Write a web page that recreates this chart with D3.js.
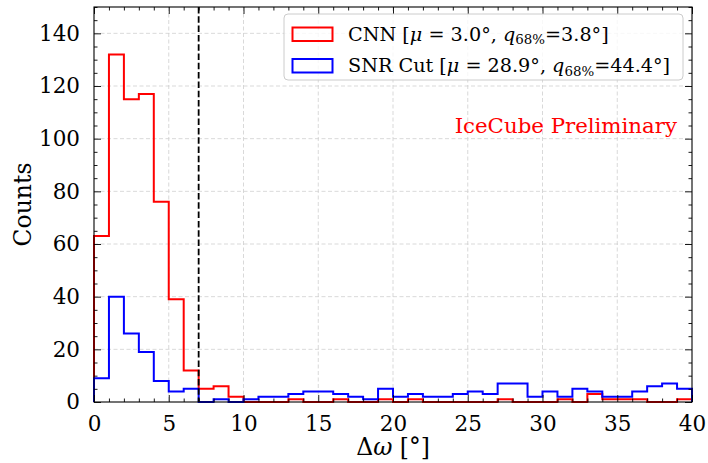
<!DOCTYPE html>
<html>
<head>
<meta charset="utf-8">
<script src="https://cdn.jsdelivr.net/npm/d3@7"></script>
<style>
  html, body { margin: 0; padding: 0; background: #fff; }
  svg { display: block; font-family: "DejaVu Serif", serif; }
</style>
</head>
<body>
<svg id="chart" width="708" height="463"></svg>
<script>
// 1-degree bins from 0 to 40
const binEdges = d3.range(0, 41);
const cnnCounts = [63, 132, 115, 117, 76, 39, 12, 5, 6, 2,
                   0, 0, 0, 1, 0, 0, 1, 0, 0, 1,
                   0, 1, 0, 0, 0, 0, 0, 1, 0, 0,
                   0, 1, 0, 3, 1, 1, 1, 0, 0, 1];
const snrCounts = [9, 40, 26, 19, 8, 4, 5, 0, 1, 0,
                   1, 2, 2, 3, 4, 4, 3, 2, 1, 5,
                   2, 3, 2, 2, 3, 4, 3, 7, 7, 2,
                   4, 2, 5, 4, 2, 2, 4, 6, 7, 5];
const xTicks = [0, 5, 10, 15, 20, 25, 30, 35, 40];
const yTicks = [0, 20, 40, 60, 80, 100, 120, 140];
const cutAngle = 7;

const svg = d3.select('#chart');
const M = { left: 94, right: 692, top: 7, bottom: 402 };

const x = d3.scaleLinear().domain([0, 40]).range([M.left, M.right]);
const y = d3.scaleLinear().domain([0, 150]).range([M.bottom, M.top]);

// grid
const grid = svg.append('g');
grid.selectAll('line.gx').data(xTicks.slice(1, -1)).join('line')
    .attr('x1', d => x(d)).attr('x2', d => x(d))
    .attr('y1', M.top).attr('y2', M.bottom);
grid.selectAll('line.gy').data(yTicks.slice(1)).join('line')
    .attr('x1', M.left).attr('x2', M.right)
    .attr('y1', d => y(d)).attr('y2', d => y(d));
grid.selectAll('line')
    .attr('stroke', '#cfcfcf').attr('stroke-width', 0.8)
    .attr('stroke-dasharray', '4,2.5');

// step histograms
function stepPoints(counts) {
    const pts = [[0, 0]];
    counts.forEach((c, i) => pts.push([binEdges[i], c]));
    pts.push([binEdges[binEdges.length - 1], counts[counts.length - 1]]);
    pts.push([binEdges[binEdges.length - 1], 0]);
    return pts;
}
const step = d3.line().x(d => x(d[0])).y(d => y(d[1])).curve(d3.curveStepAfter);

svg.append('path').attr('d', step(stepPoints(cnnCounts)))
    .attr('fill', 'none').attr('stroke', '#ff0000').attr('stroke-width', 2);
svg.append('path').attr('d', step(stepPoints(snrCounts)))
    .attr('fill', 'none').attr('stroke', '#0000ff').attr('stroke-width', 2);

// cut line
svg.append('line')
    .attr('x1', x(cutAngle)).attr('x2', x(cutAngle))
    .attr('y1', M.top).attr('y2', M.bottom)
    .attr('stroke', '#000').attr('stroke-width', 1.8)
    .attr('stroke-dasharray', '6.5,2.8');

// axes, ticks inward on all four sides
const tickFont = 21.5;
function styleAxis(g) {
    g.select('.domain').remove();
    g.selectAll('.tick line').attr('stroke', '#000').attr('stroke-width', 0.9);
    g.selectAll('.tick text').attr('fill', '#000')
        .attr('font-family', '"DejaVu Serif", serif').attr('font-size', tickFont);
}
const minorX = d3.range(0, 41).filter(v => v % 5 !== 0);
const minorY = d3.range(0, 151, 5).filter(v => v % 20 !== 0);

svg.append('g').attr('transform', `translate(0,${M.bottom})`)
    .call(d3.axisBottom(x).tickValues(xTicks).tickSize(-7).tickPadding(14).tickFormat(d3.format('d')))
    .call(styleAxis);
svg.append('g').attr('transform', `translate(0,${M.bottom})`)
    .call(d3.axisBottom(x).tickValues(minorX).tickSize(-3.5).tickFormat(''))
    .call(styleAxis);
svg.append('g').attr('transform', `translate(0,${M.top})`)
    .call(d3.axisTop(x).tickValues(xTicks).tickSize(-7).tickFormat(''))
    .call(styleAxis);
svg.append('g').attr('transform', `translate(0,${M.top})`)
    .call(d3.axisTop(x).tickValues(minorX).tickSize(-3.5).tickFormat(''))
    .call(styleAxis);
svg.append('g').attr('transform', `translate(${M.left},0)`)
    .call(d3.axisLeft(y).tickValues(yTicks).tickSize(-7).tickPadding(14).tickFormat(d3.format('d')))
    .call(styleAxis);
svg.append('g').attr('transform', `translate(${M.left},0)`)
    .call(d3.axisLeft(y).tickValues(minorY).tickSize(-3.5).tickFormat(''))
    .call(styleAxis);
svg.append('g').attr('transform', `translate(${M.right},0)`)
    .call(d3.axisRight(y).tickValues(yTicks).tickSize(-7).tickFormat(''))
    .call(styleAxis);
svg.append('g').attr('transform', `translate(${M.right},0)`)
    .call(d3.axisRight(y).tickValues(minorY).tickSize(-3.5).tickFormat(''))
    .call(styleAxis);

// frame
svg.append('rect')
    .attr('x', M.left).attr('y', M.top)
    .attr('width', M.right - M.left).attr('height', M.bottom - M.top)
    .attr('fill', 'none').attr('stroke', '#000').attr('stroke-width', 1.1);

// axis labels
const xl = svg.append('text')
    .attr('x', (M.left + M.right) / 2).attr('y', 455)
    .attr('text-anchor', 'middle').attr('font-size', 23.5);
xl.append('tspan').text('Δ');
xl.append('tspan').attr('font-style', 'italic').text('ω');
xl.append('tspan').text(' [°]');

svg.append('text')
    .attr('transform', `translate(31,${(M.top + M.bottom) / 2}) rotate(-90)`)
    .attr('text-anchor', 'middle').attr('font-size', 23.5)
    .text('Counts');

// legend
const legend = svg.append('g');
legend.append('rect')
    .attr('x', 284).attr('y', 14).attr('width', 399).attr('height', 66)
    .attr('rx', 4).attr('fill', '#fff').attr('fill-opacity', 0.8)
    .attr('stroke', '#cccccc').attr('stroke-width', 1);

const entries = [
    { color: '#ff0000', name: 'CNN', mu: '3.0', q: '3.8' },
    { color: '#0000ff', name: 'SNR Cut', mu: '28.9', q: '44.4' }
];
entries.forEach((e, i) => {
    const yb = 40.5 + i * 31.5;
    legend.append('rect')
        .attr('x', 292.5).attr('y', yb - 13).attr('width', 40).attr('height', 13.5)
        .attr('fill', 'none').attr('stroke', e.color).attr('stroke-width', 2);
    const t = legend.append('text').attr('x', 348).attr('y', yb).attr('font-size', 19.2);
    t.append('tspan').text(`${e.name} [`);
    t.append('tspan').attr('font-style', 'italic').text('μ');
    t.append('tspan').text(` = ${e.mu}°, `);
    t.append('tspan').attr('font-style', 'italic').text('q');
    t.append('tspan').attr('font-size', 13.4).attr('dy', 3.8).text('68%');
    t.append('tspan').attr('dy', -3.8).text(`=${e.q}°]`);
});

svg.append('text')
    .attr('x', 677).attr('y', 133).attr('text-anchor', 'end')
    .attr('font-size', 21.3).attr('fill', '#ff0000')
    .text('IceCube Preliminary');
</script>
</body>
</html>
